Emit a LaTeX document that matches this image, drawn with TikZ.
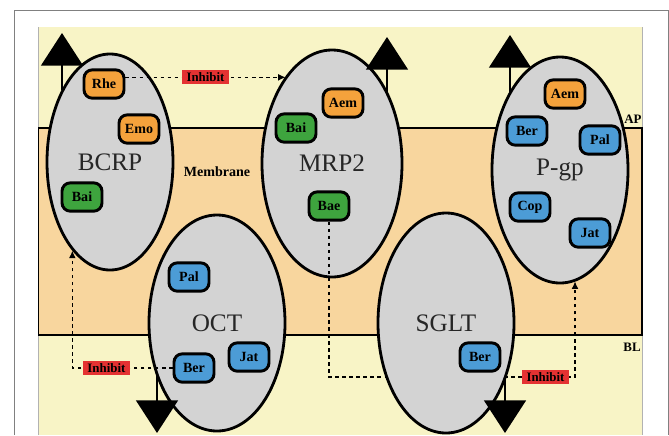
\documentclass[tikz,border=0pt]{standalone}
\usepackage{fontspec}
\setmainfont{Liberation Serif}
\usetikzlibrary{shapes.geometric,arrows.meta}
\definecolor{apical}{RGB}{248,244,198}
\definecolor{membr}{RGB}{248,214,158}
\definecolor{cellgray}{RGB}{211,211,211}
\definecolor{drugor}{RGB}{244,162,60}
\definecolor{druggr}{RGB}{62,164,62}
\definecolor{drugbl}{RGB}{76,156,214}
\definecolor{tagred}{RGB}{228,50,50}

\begin{document}
\begin{tikzpicture}[x=0.03cm,y=-0.03cm]
\tikzstyle{carrier}=[ellipse, draw, line width=2.4pt, fill=cellgray, inner sep=0pt, text=black!85, font=\fontsize{21.5}{24}\selectfont]
\tikzstyle{drug}=[rectangle, rounded corners=2.5mm, draw, line width=2.5pt, minimum width=1.2cm, minimum height=0.85cm, inner sep=1pt, font=\bfseries\fontsize{12}{13}\selectfont]
\tikzstyle{inhibit}=[line width=0.9pt, dash pattern=on 3pt off 3pt, -{Latex[length=2.2mm,width=2mm]}]
\tikzstyle{tag}=[fill=tagred, inner xsep=4pt, inner ysep=2pt, font=\bfseries\fontsize{11}{12}\selectfont]
\tikzstyle{pump}=[line width=2.4pt, -{Triangle[width=1.25cm,length=0.98cm]}]
\tikzstyle{side}=[font=\bfseries\fontsize{11}{12}\selectfont]

\useasboundingbox (0,0) rectangle (669,435);

% frame, lumen and membrane
\draw[gray, line width=0.8pt] (14,435) -- (14,10) -- (668,10) -- (668,435);
\fill[apical] (38,27) rectangle (642,435);
\draw[gray!60] (38,435) -- (38,27);
\draw[gray!60] (642,27) -- (642,435);
\fill[membr] (38,128) rectangle (642,335);
\draw[line width=0.6pt] (38,128) -- (38,335);
\draw[line width=2.4pt] (38,128) -- (642,128) -- (642,335) -- (38,335);

\node[font=\bfseries\fontsize{12}{14}\selectfont] (mem) at (217,172) {Membrane};
\node[side] (ap) at (633,119) {AP};
\node[side] (bl) at (632,347) {BL};

% transporters
\node[carrier, minimum width=3.78cm, minimum height=6.48cm] (BCRP) at (110,162) {BCRP};
\node[carrier, minimum width=4.2cm, minimum height=6.81cm] (MRP2) at (332,163.5) {MRP2};
\node[carrier, minimum width=4.08cm, minimum height=6.78cm] (Pgp) at (560,170) {P-gp};
\node[carrier, minimum width=4.08cm, minimum height=6.48cm] (OCT) at (217,323) {OCT};

% substrates
\node[drug, fill=drugor] (Rhe) at (104,84) {Rhe};
\node[drug, fill=drugor] (Emo) at (139,129) {Emo};
\node[drug, fill=druggr] (BaiB) at (82,197) {Bai};
\node[drug, fill=druggr] (BaiM) at (296,128) {Bai};
\node[drug, fill=drugor] (AemM) at (343,103) {Aem};
\node[drug, fill=druggr] (Bae) at (329,206) {Bae};
\node[drug, fill=drugor] (AemP) at (565,94) {Aem};
\node[drug, fill=drugbl] (BerP) at (527,131) {Ber};
\node[drug, fill=drugbl] (PalP) at (600,140) {Pal};
\node[drug, fill=drugbl] (Cop) at (530,207) {Cop};
\node[drug, fill=drugbl] (JatP) at (590,233) {Jat};
\node[drug, fill=drugbl] (PalO) at (189,277) {Pal};
\node[drug, fill=drugbl] (BerO) at (194,368) {Ber};
\node[drug, fill=drugbl] (JatO) at (249,357) {Jat};

% inhibition
\coordinate (rheOut) at ([yshift=2mm]Rhe.east);
\draw[inhibit] (rheOut) -- (rheOut -| MRP2.118) node[tag, midway] {Inhibit};
\draw[inhibit] (BerO.west) -| (BCRP.247) node[tag, pos=0.33] {Inhibit};
\coordinate (bendR) at (575,377);
\draw[inhibit] (Bae.south) |- (bendR) node[tag, pos=0.94] {Inhibit} -- (bendR |- Pgp.278);

\node[carrier, minimum width=4.08cm, minimum height=6.6cm] (SGLT) at (446,323) {SGLT};
\node[drug, fill=drugbl] (BerS) at (480,357) {Ber};

% efflux / uptake direction
\coordinate (upB) at (62,33);
\coordinate (upM) at (387,37);
\coordinate (upP) at (510,35);
\coordinate (dnO) at (157,433);
\coordinate (dnS) at (505,433);
\draw[pump] (upB |- BCRP.124) -- (upB);
\draw[pump] (upM |- MRP2.52) -- (upM);
\draw[pump] (upP |- Pgp.123) -- (upP);
\draw[pump] (dnO |- OCT.220) -- (dnO);
\draw[pump] (dnS |- SGLT.317) -- (dnS);
\end{tikzpicture}
\end{document}
